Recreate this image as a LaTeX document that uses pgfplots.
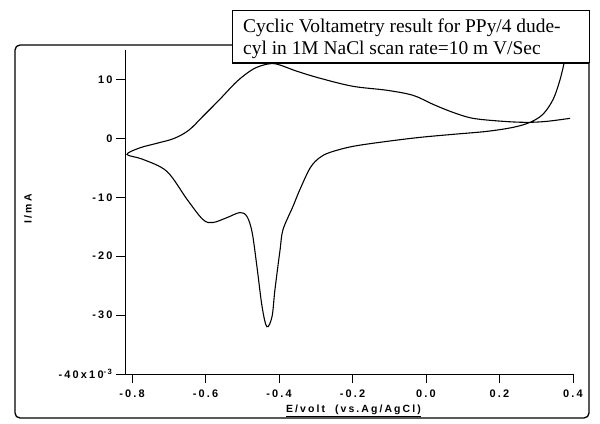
\documentclass[border=0pt]{standalone}
\usepackage{fontspec}
\setmainfont{Liberation Serif}
\newfontfamily\lab[LetterSpace=20]{Liberation Sans}
\usepackage{pgfplots}
\pgfplotsset{compat=1.18}

\begin{document}
\begin{tikzpicture}
\path[use as bounding box] (0,0) rectangle (600bp,424bp);
\begin{axis}[
  at={(125bp,50bp)}, anchor=south west,
  scale only axis, width=448bp, height=324bp,
  xmin=-0.819, xmax=0.4, ymin=-40, ymax=15,
  axis x line*=bottom, axis y line*=left,
  axis line style={-, line width=1pt},
  tick align=outside, major tick length=9bp,
  tick style={line width=0.9pt, black},
  xtick={-0.8,-0.6,-0.4,-0.2,0,0.2,0.4},
  xticklabels={-0.8,-0.6,-0.4,-0.2,0.0,0.2,0.4},
  ytick={-40,-30,-20,-10,0,10},
  yticklabels={-40x10\textsuperscript{-3},-30,-20,-10,0,10},
  ticklabel style={font=\lab\bfseries\fontsize{11}{13}\selectfont},
  xticklabel style={yshift=-3bp},
  xlabel={\underline{E/volt\ \ (vs.Ag/AgCl)}},
  xlabel style={font=\lab\bfseries\fontsize{10.5}{12}\selectfont,
    at={(axis description cs:0.51,-0.12)}, anchor=base},
  ylabel={I/mA},
  ylabel style={font=\lab\bfseries\fontsize{10.5}{12}\selectfont,
    at={(axis description cs:-0.2165,0.51)}, anchor=center},
]
\addplot[black, line width=1.1pt, smooth, tension=0.55] coordinates {
  (0.392,3.40) (0.329,2.89) (0.275,2.72) (0.210,2.89) (0.128,3.40)
  (0.073,4.42) (0.019,5.78) (-0.035,7.30) (-0.106,8.16) (-0.199,8.84)
  (-0.288,10.20) (-0.351,11.39) (-0.405,12.59) (-0.433,12.59)
  (-0.471,11.73) (-0.514,9.69) (-0.561,6.63) (-0.607,3.74)
  (-0.645,1.40) (-0.685,0.00) (-0.730,-0.80) (-0.778,-1.60) (-0.8136,-2.72)
  (-0.770,-3.57) (-0.705,-5.61) (-0.650,-10.37) (-0.607,-13.78)
  (-0.580,-14.29) (-0.541,-13.44) (-0.506,-12.59) (-0.487,-13.27)
  (-0.473,-15.99) (-0.460,-21.77) (-0.446,-28.57) (-0.433,-31.97)
  (-0.419,-30.27) (-0.411,-25.68) (-0.397,-18.88) (-0.389,-15.48)
  (-0.362,-11.56) (-0.343,-8.67) (-0.315,-5.00) (-0.290,-3.30)
  (-0.261,-2.38) (-0.199,-1.36) (-0.106,-0.51) (-0.016,0.17)
  (0.073,0.68) (0.166,1.19) (0.237,1.87) (0.283,2.72) (0.318,4.08)
  (0.346,6.63) (0.365,10.03) (0.378,13.44) (0.381,14.8)
};
\end{axis}
% outer frame and title box
\draw[line width=1.3pt, rounded corners=5bp] (15bp,6bp) rectangle (589bp,379bp);
\draw[fill=white, line width=1pt] (232bp,361bp) rectangle (589bp,413bp);
\draw[line width=2pt] (232bp,361bp) -- (589bp,361bp);
\node[anchor=base west, inner sep=0pt, font=\fontsize{19.5}{22}\selectfont]
  at (243bp,391bp) {Cyclic Voltametry result for PPy/4 dude-};
\node[anchor=base west, inner sep=0pt, font=\fontsize{19.5}{22}\selectfont]
  at (243bp,369bp) {cyl in 1M NaCl scan rate=10 m V/Sec};
\end{tikzpicture}
\end{document}
